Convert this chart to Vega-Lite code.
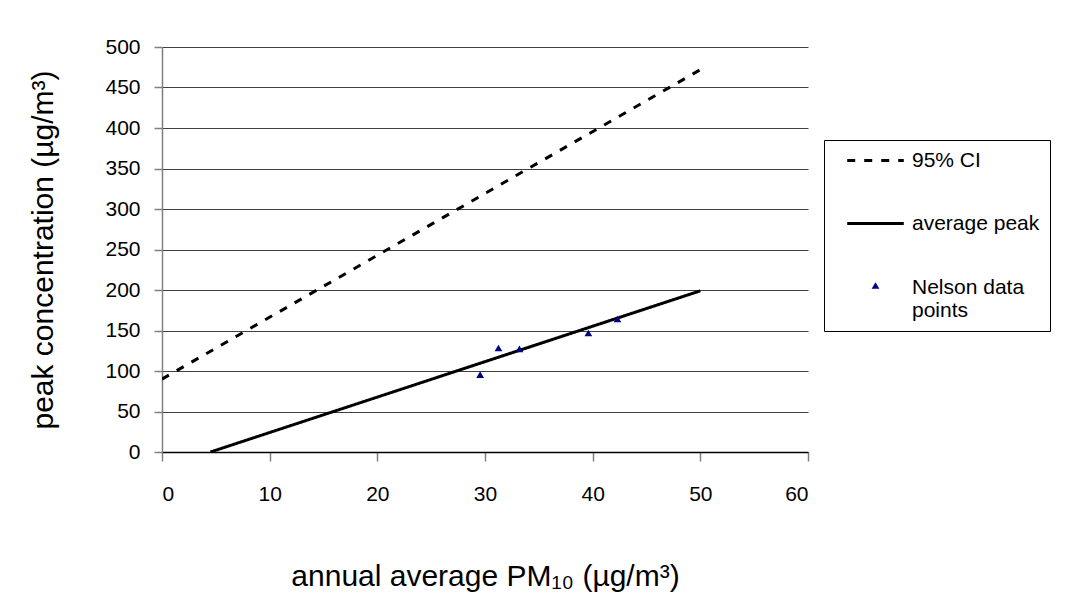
{
  "$schema": "https://vega.github.io/schema/vega-lite/v6.json",
  "width": 646,
  "height": 405,
  "autosize": {"type": "none"},
  "padding": {"left": 162, "top": 47, "right": 282, "bottom": 151},
  "background": "white",
  "config": {
    "view": {"stroke": null},
    "font": "Liberation Sans",
    "axis": {"labelFont": "Liberation Sans", "titleFont": "Liberation Sans", "labelColor": "#000000", "titleColor": "#000000", "titleFontWeight": "normal"},
    "legend": {"labelFont": "Liberation Sans"}
  },
  "datasets": {
    "lines": [
      {"series": "95% CI", "x": 0, "y": 90},
      {"series": "95% CI", "x": 50, "y": 472},
      {"series": "average peak", "x": 4.5, "y": 0},
      {"series": "average peak", "x": 50, "y": 199}
    ],
    "points": [
      {"series": "Nelson data points", "x": 29.55, "y": 95.4},
      {"series": "Nelson data points", "x": 31.25, "y": 128.4},
      {"series": "Nelson data points", "x": 33.2, "y": 127.2},
      {"series": "Nelson data points", "x": 39.6, "y": 146.9},
      {"series": "Nelson data points", "x": 42.3, "y": 164.2}
    ]
  },
  "layer": [
    {
      "data": {"name": "lines"},
      "mark": {"type": "line", "clip": true, "strokeWidth": 3},
      "encoding": {
        "x": {
          "field": "x", "type": "quantitative",
          "scale": {"domain": [0, 60], "nice": false},
          "axis": {
            "values": [0, 10, 20, 30, 40, 50, 60],
            "grid": false,
            "domainColor": "#000000", "domainWidth": 1.5,
            "tickColor": "#808080", "tickSize": 9, "tickWidth": 1.5,
            "labelFontSize": 21, "labelPadding": 22,
            "title": "annual average PM₁₀ (µg/m³)",
            "titleFontSize": 30, "titlePadding": 57
          }
        },
        "y": {
          "field": "y", "type": "quantitative",
          "scale": {"domain": [0, 500], "nice": false},
          "axis": {
            "values": [0, 50, 100, 150, 200, 250, 300, 350, 400, 450, 500],
            "grid": true, "gridColor": "#404040", "gridWidth": 1.2, "gridOpacity": 1,
            "domainColor": "#808080", "domainWidth": 1.5,
            "tickColor": "#808080", "tickSize": 8, "tickWidth": 1.5,
            "labelFontSize": 21, "labelPadding": 14,
            "title": "peak concentration (µg/m³)",
            "titleFontSize": 30, "titlePadding": 46
          }
        },
        "detail": {"field": "series"},
        "color": {
          "field": "series", "type": "nominal",
          "scale": {"domain": ["95% CI", "average peak", "Nelson data points"], "range": ["#000000", "#000000", "#000080"]},
          "legend": {
            "title": null, "orient": "none", "legendX": 662, "legendY": 93,
            "strokeColor": "#000000", "fillColor": "#ffffff", "padding": 10,
            "labelFontSize": 21, "labelOffset": 26, "labelLimit": 300,
            "symbolSize": 400, "symbolOffset": 31, "symbolStrokeWidth": 3,
            "rowPadding": 41,
            "labelExpr": "datum.label == 'Nelson data points' ? ['Nelson data', 'points'] : datum.label",
            "encode": {
              "symbols": {
                "update": {
                  "shape": {"signal": "datum.value == 'Nelson data points' ? 'triangle-up' : 'stroke'"},
                  "size": {"signal": "datum.value == 'Nelson data points' ? 60 : 3200"},
                  "strokeDash": {"signal": "datum.value == '95% CI' ? [8, 9] : [1, 0]"},
                  "strokeWidth": {"signal": "datum.value == 'Nelson data points' ? 0 : 3"},
                  "fill": {"signal": "datum.value == 'Nelson data points' ? '#000080' : 'transparent'"},
                  "stroke": {"signal": "datum.value == 'Nelson data points' ? '#000080' : '#000000'"},
                  "opacity": {"value": 1}
                }
              },
              "labels": {
                "update": {
                  "dy": {"signal": "datum.value == 'Nelson data points' ? 2 : 0"}
                }
              }
            }
          }
        },
        "strokeDash": {
          "field": "series", "type": "nominal",
          "scale": {"domain": ["95% CI", "average peak"], "range": [[8, 9], [1, 0]]},
          "legend": null
        }
      }
    },
    {
      "data": {"name": "points"},
      "mark": {"type": "point", "filled": true, "opacity": 1, "shape": "triangle-up", "size": 60, "strokeWidth": 0},
      "encoding": {
        "x": {"field": "x", "type": "quantitative"},
        "y": {"field": "y", "type": "quantitative"},
        "color": {"field": "series", "type": "nominal"}
      }
    }
  ]
}
